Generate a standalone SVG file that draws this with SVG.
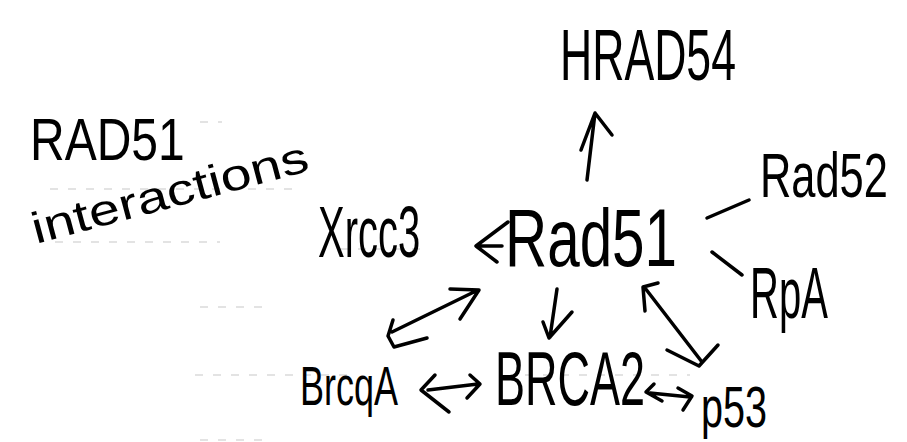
<svg xmlns="http://www.w3.org/2000/svg" width="907" height="442" viewBox="0 0 907 442">
<style>
.t{font-family:"Liberation Sans","DejaVu Sans",sans-serif;fill:#000;}
.c{fill:none;stroke:#000;stroke-width:3.5;stroke-linecap:round;stroke-linejoin:round;}
.r{stroke:#c8c8c8;stroke-width:1.2;stroke-dasharray:8 10;fill:none;}
</style>
<rect width="907" height="442" fill="#fff"/>
<g id="ruling">
<path class="r" d="M200 122H222M50 189H300M55 242H220M340 249H430M200 307H262M195 375H350M525 375H690M200 440H265"/>
</g>
<g id="title">
<text class="t" x="0" y="0" font-size="48" transform="translate(30 160) scale(1 1.25)">RAD51</text>
<text class="t" x="0" y="0" font-size="55.7" transform="translate(36 244) rotate(-15) scale(1 0.79)">interactions</text>
</g>
<g id="hrad54"><text class="t" x="0" y="0" font-size="44.6" transform="translate(560 80) scale(1 1.61)">HRAD54</text></g>
<g id="xrcc3"><text class="t" x="0" y="0" font-size="40" transform="translate(318 257) scale(1 1.8)">Xrcc3</text></g>
<g id="rad51"><text class="t" x="0" y="0" font-size="58.4" transform="translate(505 266) scale(1 1.4)">Rad51</text></g>
<g id="rad52"><text class="t" x="0" y="0" font-size="43.4" transform="translate(760 197) scale(1 1.47)">Rad52</text></g>
<g id="rpa"><text class="t" x="0" y="0" font-size="40" transform="translate(750 318) scale(1 1.8)">RpA</text></g>
<g id="brcqa"><text class="t" x="0" y="0" font-size="36" transform="translate(300 405) scale(1 1.56)">BrcqA</text></g>
<g id="brca2"><text class="t" x="0" y="0" font-size="45" transform="translate(495 405) scale(1 1.69)">BRCA2</text></g>
<g id="p53"><text class="t" x="0" y="0" font-size="39.6" transform="translate(701 427) scale(1 1.46)">p53</text></g>
<g id="connectors">
<path class="c" d="M587 180L595 113M581 150L595 113L612 135"/>
<path class="c" d="M508 222L476 246L497 262M476 246L502 246"/>
<path class="c" d="M707 218L749 200"/>
<path class="c" d="M712 252L742 275"/>
<path class="c" d="M392 332L478 290M450 289L479 290L460 319M393 320L388 336L394 347L427 338"/>
<path class="c" d="M557 289L550 337M543 322L549 338L572 312"/>
<path class="c" d="M645 288L702 362M658 283L643 287L645 311M667 350L699 366L718 345"/>
<path class="c" d="M428 390L478 384M435 375L421 390L449 412M470 375L480 384L467 398"/>
<path class="c" d="M650 393L690 397M654 384L646 392L662 401M678 388L692 396L683 410"/>
</g>
</svg>
